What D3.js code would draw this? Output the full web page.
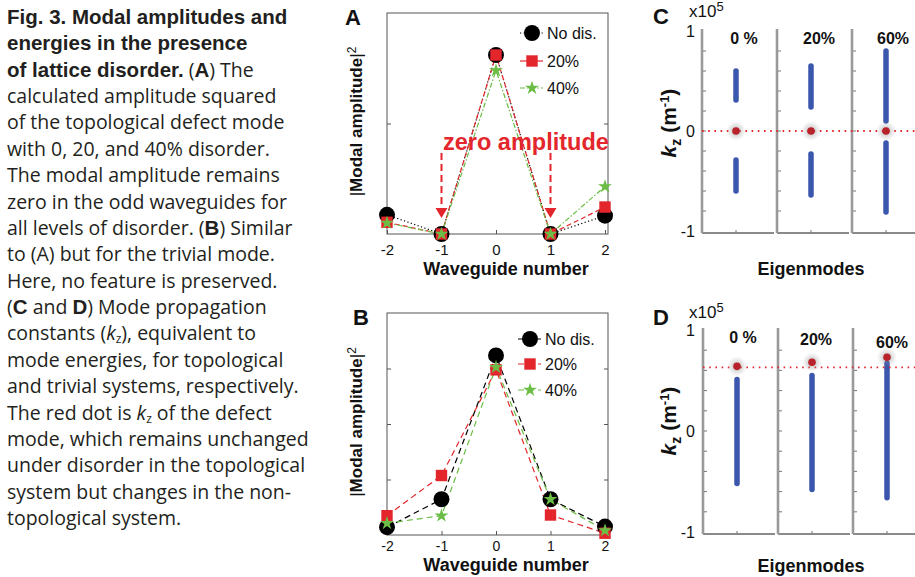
<!DOCTYPE html>
<html>
<head>
<meta charset="utf-8">
<script src="https://cdn.jsdelivr.net/npm/d3@7"></script>
<style>
body{margin:0;background:#fff}
text{font-family:"Liberation Sans",Arial,sans-serif}
</style>
</head>
<body>
<svg id="fig" width="915" height="577"></svg>
<script>
// ---- data ----
const waveguides=[-2,-1,0,1,2]
const seriesNames=["No dis.","20%","40%"]
// panel A, topological defect mode, |amplitude|^2 (arbitrary units)
const ampA_nodis=[0.087,0,0.81,0,0.083]
const ampA_20=[0.053,0,0.81,0,0.122]
const ampA_40=[0.05,0,0.74,0,0.215]
// panel B, trivial mode
const ampB_nodis=[0.035,0.161,0.809,0.161,0.038]
const ampB_20=[0.087,0.268,0.744,0.09,0.008]
const ampB_40=[0.053,0.087,0.756,0.161,0.02]
const ampTicksA=[0.5]
const ampTicksB=[0.25,0.5,0.75]
// panels C and D, kz in units of 1e5 m^-1
const disorderLabels=["0 %","20%","60%"]
const bandsC=[[[0.31,0.6],[-0.6,-0.29]],[[0.24,0.65],[-0.64,-0.23]],[[0.1,0.8],[-0.81,-0.12]]]
const defectC=[0,0,0]
const defectLineC=0
const bandsD=[[[-0.52,0.51]],[[-0.58,0.55]],[[-0.66,0.67]]]
const defectD=[0.64,0.68,0.73]
const defectLineD=0.63
const kzTicks=[-1,0,1]
const kzMinor=[-0.8,-0.6,-0.4,-0.2,0,0.2,0.4,0.6,0.8]

const captionLines=[
 [["Fig. 3. Modal amplitudes and","b"]],
 [["energies in the presence","b"]],
 [["of lattice disorder.","b"],[" ("],["A","b"],[") The"]],
 [["calculated amplitude squared"]],
 [["of the topological defect mode"]],
 [["with 0, 20, and 40% disorder."]],
 [["The modal amplitude remains"]],
 [["zero in the odd waveguides for"]],
 [["all levels of disorder. ("],["B","b"],[") Similar"]],
 [["to (A) but for the trivial mode."]],
 [["Here, no feature is preserved."]],
 [["("],["C","b"],[" and "],["D","b"],[") Mode propagation"]],
 [["constants ("],["k","i"],["z","sub"],["), equivalent to"]],
 [["mode energies, for topological"]],
 [["and trivial systems, respectively."]],
 [["The red dot is "],["k","i"],["z","sub"],[" of the defect"]],
 [["mode, which remains unchanged"]],
 [["under disorder in the topological"]],
 [["system but changes in the non-"]],
 [["topological system."]]
]

const RED="#e3262b",GREEN="#6bbd45",BLUE="#3b56ad",INK="#231f20"
const svg=d3.select('#fig')

// ---- caption ----
let cap=svg.append('g').attr('fill',INK)
captionLines.forEach((line,i)=>{
  let t=cap.append('text').attr('x',7).attr('y',24+26.37*i)
    .style('font-family','"Open Sans",sans-serif').style('font-size','19.5px')
  let shift=0
  line.forEach(seg=>{
    let s=t.append('tspan').text(seg[0])
    if(seg[1]=='b')s.style('font-weight','bold').style('font-family','"Liberation Sans",Arial,sans-serif').style('font-size','20.5px')
    if(seg[1]=='i')s.style('font-style','italic')
    if(seg[1]=='sub'){s.attr('dy',3).style('font-size','12px');shift=3}
    else if(shift){s.attr('dy',-shift);shift=0}
  })
})

// ---- amplitude panels ----
function ampPanel(o){
  const x=d3.scaleLinear().domain([-2,2.055]).range([387,608])
  const y=d3.scaleLinear().domain([0,1]).range([o.bottom,o.top])
  const g=svg.append('g')
  g.append('rect').attr('x',x(-2)).attr('y',y(1))
    .attr('width',x(2.055)-x(-2)).attr('height',y(0)-y(1))
    .attr('fill','none').attr('stroke','#555').attr('stroke-width',1)
  const xa=g.append('g').attr('transform','translate(0,'+y(0)+')')
    .call(d3.axisBottom(x).tickValues(waveguides).tickSizeInner(-4).tickSizeOuter(0).tickPadding(o.tickPad).tickFormat(d3.format('d')))
  xa.select('.domain').remove()
  xa.selectAll('text').style('font-size',o.tickFont).attr('fill','#111').text(d=>d<0?'-'+(-d):d)
  xa.selectAll('line').attr('stroke','#555')
  const yl=g.append('g').attr('transform','translate('+x(-2)+',0)')
    .call(d3.axisLeft(y).tickValues(o.ticks).tickSizeInner(-4).tickSizeOuter(0).tickFormat(''))
  const yr=g.append('g').attr('transform','translate('+x(2.055)+',0)')
    .call(d3.axisRight(y).tickValues(o.ticks).tickSizeInner(-4).tickSizeOuter(0).tickFormat(''))
  ;[yl,yr].forEach(a=>{a.select('.domain').remove();a.selectAll('line').attr('stroke','#555')})

  g.append('text').attr('x',o.labelX).attr('y',o.top+12).text(o.label)
    .style('font-size','22px').style('font-weight','bold').attr('fill','#111')
  g.append('text').attr('x',506).attr('y',y(0)+o.titleOff).attr('text-anchor','middle')
    .style('font-size','18px').style('font-weight','bold').attr('fill','#111').text('Waveguide number')
  const yt=g.append('text').attr('transform','translate(362,'+((o.top+o.bottom)/2-2)+') rotate(-90)')
    .attr('text-anchor','middle').style('font-size','17px').style('font-weight','bold').attr('fill','#111')
  yt.append('tspan').text('|').style('font-weight','normal')
  yt.append('tspan').text('Modal amplitude')
  yt.append('tspan').text('|').style('font-weight','normal')
  yt.append('tspan').text('2').attr('dy',-6).style('font-size','12px').style('font-weight','normal')

  const line=d3.line().x((d,i)=>x(waveguides[i])).y(d=>y(d))
  o.series.forEach(s=>{
    g.append('path').datum(s.values).attr('d',line).attr('fill','none')
      .attr('stroke',s.color).attr('stroke-width',1.2).attr('stroke-dasharray',s.dash)
  })
  o.series.forEach(s=>{
    g.selectAll(null).data(s.values).join('path')
      .attr('transform',(d,i)=>'translate('+x(waveguides[i])+','+y(d)+')')
      .attr('d',d3.symbol(s.symbol,s.size)()).attr('fill',s.color)
  })
  // legend
  o.series.forEach((s,i)=>{
    const ly=o.legY[i]
    g.append('line').attr('x1',o.legX-12).attr('x2',o.legX+11).attr('y1',ly).attr('y2',ly)
      .attr('stroke',s.color).attr('stroke-width',1.2).attr('stroke-dasharray',s.legDash)
    g.append('path').attr('transform','translate('+o.legX+','+ly+')')
      .attr('d',d3.symbol(s.symbol,s.size)()).attr('fill',s.color)
    g.append('text').attr('x',o.legX+15).attr('y',ly+6).text(seriesNames[i])
      .style('font-size','16px').attr('fill','#111')
  })
  return {x,y,g}
}

const pa=ampPanel({top:13,bottom:234,ticks:ampTicksA,label:'A',labelX:345,legX:532,legY:[33,61,88],tickPad:10,tickFont:'15px',titleOff:40.5,
  series:[
    {values:ampA_nodis,color:'#000',dash:'1.2,2.4',legDash:'1.2,2.4',symbol:d3.symbolCircle,size:200},
    {values:ampA_20,color:RED,dash:'5,3',legDash:null,symbol:d3.symbolSquare,size:130},
    {values:ampA_40,color:GREEN,dash:'5,2,1.5,2',legDash:'5,2,1.5,2',symbol:d3.symbolStar,size:60}
  ]})
const pb=ampPanel({top:313,bottom:535,ticks:ampTicksB,label:'B',labelX:353,legX:530,legY:[339,364,390],tickPad:6,tickFont:'14px',titleOff:35.5,
  series:[
    {values:ampB_nodis,color:'#000',dash:'6,4',legDash:'6,4',symbol:d3.symbolCircle,size:200},
    {values:ampB_20,color:RED,dash:'6,4',legDash:'6,4',symbol:d3.symbolSquare,size:130},
    {values:ampB_40,color:GREEN,dash:'6,4',legDash:'6,4',symbol:d3.symbolStar,size:60}
  ]})

// zero amplitude annotation in A
pa.g.append('text').attr('x',443).attr('y',150).text('zero amplitude')
  .style('font-size','23.5px').style('font-weight','bold').attr('fill',RED)
;[-1,1].forEach(w=>{
  const ax=pa.x(w),tip=pa.y(0)-16
  pa.g.append('line').attr('x1',ax).attr('x2',ax).attr('y1',153).attr('y2',tip-9)
    .attr('stroke',RED).attr('stroke-width',2).attr('stroke-dasharray','7,4')
  pa.g.append('path').attr('d','M'+(ax-6)+','+(tip-10)+'L'+(ax+6)+','+(tip-10)+'L'+ax+','+tip+'Z').attr('fill',RED)
})

// ---- kz panels ----
const defs=svg.append('defs')
const grad=defs.append('radialGradient').attr('id','halo')
grad.append('stop').attr('offset','0%').attr('stop-color','#777').attr('stop-opacity',0.55)
grad.append('stop').attr('offset','100%').attr('stop-color','#999').attr('stop-opacity',0)

function kzPanel(o){
  const y=d3.scaleLinear().domain([-1,1]).range(o.yRange)
  const sub=d3.scaleBand().domain(disorderLabels).range([o.left,o.left+222]).paddingInner(0.04).paddingOuter(0)
  const g=svg.append('g')
  const yTop=y(1)-2,yBot=y(-1)+2
  disorderLabels.forEach((lab,i)=>{
    const l=sub(lab),r=Math.min(l+sub.bandwidth(),915),cx=l+34
    g.append('line').attr('x1',l).attr('x2',r).attr('y1',yBot).attr('y2',yBot).attr('stroke','#8a8a8a').attr('stroke-width',2)
    g.append('line').attr('x1',l).attr('x2',l).attr('y1',yTop).attr('y2',yBot).attr('stroke','#9a9a9a').attr('stroke-width',2.6)
    kzMinor.forEach(t=>g.append('line').attr('x1',l+1).attr('x2',l+4).attr('y1',y(t)).attr('y2',y(t)).attr('stroke','#777').attr('stroke-width',1))
    g.append('line').attr('x1',cx).attr('x2',cx).attr('y1',yBot).attr('y2',yBot-3).attr('stroke','#777')
    o.bands[i].forEach(b=>{
      g.append('line').attr('x1',cx).attr('x2',cx).attr('y1',y(b[0])).attr('y2',y(b[1]))
        .attr('stroke',BLUE).attr('stroke-width',5.5).attr('stroke-linecap','round')
    })
    g.append('text').attr('x',cx+o.labDx[i]).attr('y',o.labY[i]).attr('text-anchor','middle').text(lab)
      .style('font-size','16px').style('font-weight','bold').attr('fill','#111')
  })
  g.append('line').attr('x1',o.left).attr('x2',915).attr('y1',y(o.line)).attr('y2',y(o.line))
    .attr('stroke',RED).attr('stroke-width',1.8).attr('stroke-dasharray','1.6,4.6')
  disorderLabels.forEach((lab,i)=>{
    const cx=sub(lab)+34
    g.append('circle').attr('cx',cx).attr('cy',y(o.defect[i])).attr('r',10).attr('fill','url(#halo)')
    g.append('circle').attr('cx',cx).attr('cy',y(o.defect[i])).attr('r',3.8).attr('fill','#b8222a')
  })
  kzTicks.forEach(t=>g.append('text').attr('x',695).attr('y',y(t)+5.5).attr('text-anchor','end')
    .text(t<0?'-'+(-t):t).style('font-size','16px').attr('fill','#111'))
  g.append('text').attr('x',653).attr('y',o.labTop).text(o.label).style('font-size','22px').style('font-weight','bold').attr('fill','#111')
  const e=g.append('text').attr('x',689).attr('y',o.labTop-7).style('font-size','17px').attr('fill','#111')
  e.append('tspan').text('x10')
  e.append('tspan').text('5').attr('dy',-6).style('font-size','13px')
  const kt=g.append('text').attr('transform','translate(676,'+o.kzMid+') rotate(-90)').attr('text-anchor','middle')
    .style('font-size','21px').style('font-weight','bold').attr('fill','#111')
  kt.append('tspan').text('k').style('font-style','italic')
  kt.append('tspan').text('z').attr('dy',5).style('font-size','14px')
  kt.append('tspan').text(' (m').attr('dy',-5)
  kt.append('tspan').text('-1').attr('dy',-7).style('font-size','13px')
  kt.append('tspan').text(')').attr('dy',7)
  g.append('text').attr('x',811).attr('y',o.eigY).attr('text-anchor','middle').text('Eigenmodes')
    .style('font-size','18px').style('font-weight','bold').attr('fill','#111')
}

kzPanel({label:'C',labTop:24,yRange:[231,31],left:702,bands:bandsC,defect:defectC,line:defectLineC,
  labY:[44,44,44],labDx:[8,8,7],kzMid:123,eigY:275})
kzPanel({label:'D',labTop:325,yRange:[532,330],left:703,bands:bandsD,defect:defectD,line:defectLineD,
  labY:[343,345,348],labDx:[6,4,5],kzMid:421,eigY:572})
</script>
</body>
</html>
